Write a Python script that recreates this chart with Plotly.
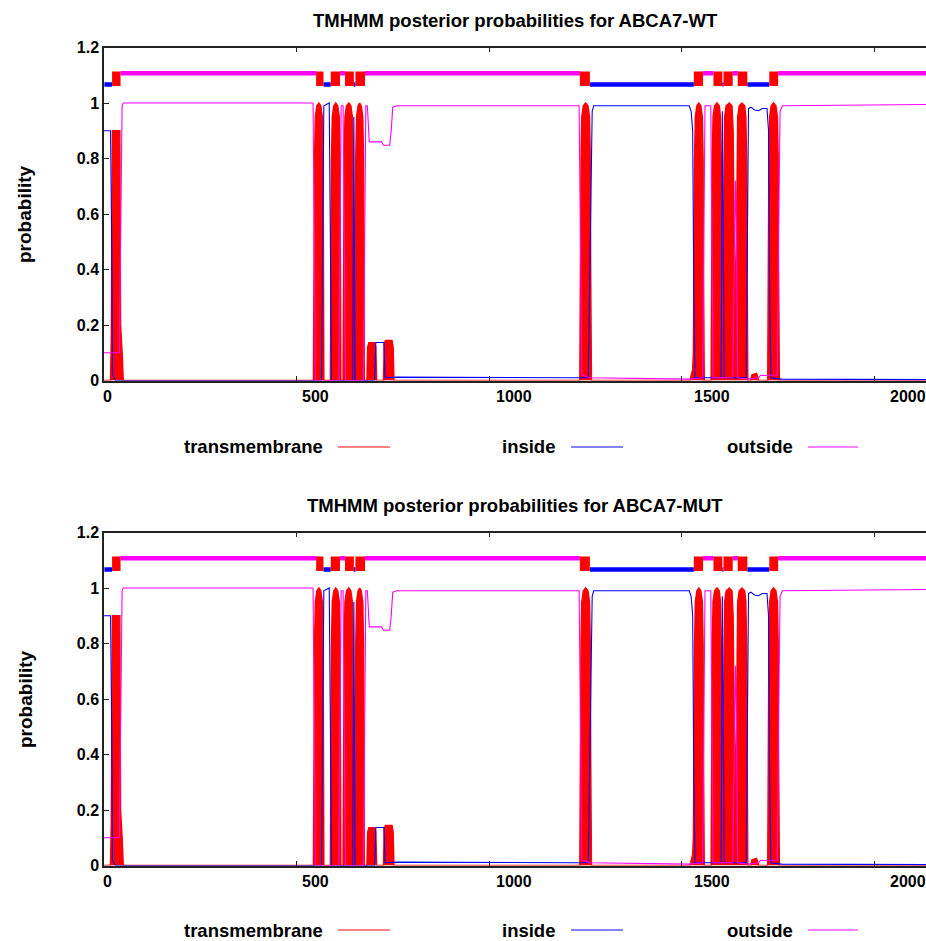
import plotly.graph_objects as go

# ---------------- data ----------------
SEQ_LEN = 2146
X_VISIBLE_MAX = 2135

series_names = ["transmembrane", "inside", "outside"]
series_colors = ["#ff0000", "#0000ff", "#ff00ff"]
legend_colors = ["#ff5a5a", "#5a5aff", "#ff5aff"]

titles = ["TMHMM posterior probabilities for ABCA7-WT",
          "TMHMM posterior probabilities for ABCA7-MUT"]

x_ticks = [0, 500, 1000, 1500, 2000]
y_ticks = [0, 0.2, 0.4, 0.6, 0.8, 1.0, 1.2]
y_tick_labels = ["0", "0.2", "0.4", "0.6", "0.8", "1", "1.2"]

# transmembrane probability (residue, probability)
wt_tm_x = [0, 17, 19, 22, 41, 43, 47, 50,
           544, 545, 547, 549, 553, 558, 563, 567, 569, 570, 571,
           588, 589, 591, 593, 597, 602, 607, 611, 613, 614, 615,
           621, 622, 624, 626, 630, 636, 641, 645, 647, 648, 649,
           651, 652, 654, 656, 660, 664, 668, 672, 674, 675, 676,
           683, 685, 688, 703, 706, 708,
           726, 728, 731, 748, 751, 753,
           1236, 1237, 1239, 1241, 1245, 1251, 1257, 1261, 1263, 1264, 1266,
           1522, 1529, 1531, 1532, 1534, 1536, 1540, 1545, 1550, 1554, 1556, 1557, 1559,
           1577, 1578, 1580, 1582, 1586, 1592, 1598, 1601, 1603, 1605, 1606, 1607,
           1608, 1610, 1612, 1616, 1624, 1631, 1634, 1636, 1638, 1640, 1642, 1644,
           1646, 1650, 1657, 1664, 1667, 1669, 1670, 1672,
           1680, 1683, 1695, 1700,
           1724, 1725, 1727, 1729, 1733, 1739, 1745, 1749, 1751, 1752, 1754, SEQ_LEN]
wt_tm_y = [0, 0, 0.15, 0.9, 0.9, 0.2, 0.1, 0,
           0, 0.4, 0.8, 0.95, 0.99, 1.0, 0.99, 0.95, 0.8, 0.4, 0,
           0, 0.4, 0.8, 0.95, 0.99, 1.0, 0.99, 0.95, 0.8, 0.4, 0,
           0, 0.4, 0.8, 0.95, 0.99, 1.0, 0.99, 0.95, 0.8, 0.4, 0,
           0, 0.4, 0.8, 0.95, 0.99, 1.0, 0.99, 0.95, 0.8, 0.4, 0,
           0, 0.12, 0.136, 0.136, 0.12, 0,
           0, 0.13, 0.144, 0.144, 0.12, 0,
           0, 0.4, 0.8, 0.95, 0.99, 1.0, 0.99, 0.95, 0.8, 0.4, 0,
           0, 0.04, 0.1, 0.4, 0.8, 0.95, 0.99, 1.0, 0.99, 0.95, 0.8, 0.4, 0,
           0, 0.4, 0.8, 0.95, 0.99, 1.0, 0.99, 0.95, 0.8, 0.4, 0.1, 0.05,
           0.4, 0.8, 0.95, 0.99, 1.0, 0.99, 0.9, 0.6, 0.35, 0.28, 0.4, 0.8,
           0.95, 0.99, 1.0, 0.99, 0.95, 0.8, 0.4, 0,
           0, 0.02, 0.025, 0,
           0, 0.4, 0.8, 0.95, 0.99, 1.0, 0.99, 0.95, 0.8, 0.4, 0, 0]

# inside probability
wt_in_x = [0, 17, 20, 22, 30,
           565, 568, 571, 585, 588, 591,
           646, 649, 652,
           703, 706, 727, 730, 760, 1230,
           1258, 1263, 1268, 1272, 1520, 1525, 1529, 1532, 1535,
           1603, 1606, 1609, 1611,
           1668, 1671, 1674, 1680, 1690, 1700, 1710, 1722, 1726, 1729, 1732,
           1760, SEQ_LEN]
wt_in_y = [0.9, 0.9, 0.5, 0.02, 0,
           0, 0.5, 0.99, 1.0, 0.5, 0,
           0, 0.95, 0,
           0, 0.137, 0.137, 0.01, 0.012, 0.01,
           0.01, 0.5, 0.97, 0.99, 0.99, 0.97, 0.9, 0.3, 0.01,
           0.01, 0.97, 0.4, 0.01,
           0.01, 0.5, 0.98, 0.985, 0.975, 0.972, 0.98, 0.98, 0.9, 0.3, 0.01,
           0.005, 0.003]

# outside probability
wt_out_x = [0, 40, 44, 47, 50, 543, 546, 549,
            610, 613, 616, 621, 624, 627,
            674, 677, 680, 684, 687, 689, 721, 726, 742, 746, 750, 760,
            1234, 1237, 1241, 1262, 1520,
            1555, 1558, 1561, 1576, 1579, 1582,
            1633, 1636, 1638, 1640, 1642, 1644, 1646,
            1672, 1700, 1705, 1745, 1749, 1752, 1756, 1762, SEQ_LEN]
wt_out_y = [0.1, 0.1, 0.6, 0.99, 1.0, 1.0, 0.5, 0,
            0, 0.5, 0.99, 0.99, 0.5, 0,
            0, 0.6, 0.99, 0.99, 0.9, 0.86, 0.86, 0.848, 0.848, 0.9, 0.985, 0.99,
            0.99, 0.5, 0.02, 0.01, 0.005,
            0.01, 0.5, 0.99, 0.99, 0.5, 0.01,
            0.01, 0.3, 0.65, 0.72, 0.6, 0.1, 0.01,
            0.005, 0.01, 0.018, 0.018, 0.02, 0.5, 0.97, 0.99, 0.995]

# predicted topology: (state, start, end)
wt_topology = [("inside", 1, 21), ("TM", 21, 43), ("outside", 43, 551),
               ("TM", 551, 570), ("inside", 570, 589), ("TM", 589, 613),
               ("outside", 613, 626), ("TM", 626, 649), ("inside", 649, 653),
               ("TM", 653, 678), ("outside", 678, 1236), ("TM", 1236, 1262),
               ("inside", 1262, 1532), ("TM", 1532, 1556), ("outside", 1556, 1583),
               ("TM", 1583, 1606), ("inside", 1606, 1609), ("TM", 1609, 1633),
               ("outside", 1633, 1646), ("TM", 1646, 1671), ("inside", 1671, 1728),
               ("TM", 1728, 1751), ("outside", 1751, SEQ_LEN)]

# the mutant profile is indistinguishable from the wild type in the picture
mut_tm_x, mut_tm_y = list(wt_tm_x), list(wt_tm_y)
mut_in_x, mut_in_y = list(wt_in_x), list(wt_in_y)
mut_out_x, mut_out_y = list(wt_out_x), list(wt_out_y)
mut_topology = list(wt_topology)

# ---------------- styling ----------------
topo_level = {"inside": 1.067, "outside": 1.107, "TM": 1.087}
topo_width = {"inside": 4.5, "outside": 4.5, "TM": 14.5}
topo_color = {"inside": "#0000ff", "outside": "#ff00ff", "TM": "#ff0000"}
# in the picture the x tick labels sit slightly right of their tick marks
x_label_shift_px = [3, 19, 25, 30, 34]

W, H = 926, 941
FONT = "Liberation Sans, Arial, sans-serif"
panels = [
    dict(title=titles[0], top=47.5, bottom=380.5, title_y=20, legend_y=447,
         data=(wt_tm_x, wt_tm_y, wt_in_x, wt_in_y, wt_out_x, wt_out_y, wt_topology)),
    dict(title=titles[1], top=532.5, bottom=865.5, title_y=505, legend_y=930,
         data=(mut_tm_x, mut_tm_y, mut_in_x, mut_in_y, mut_out_x, mut_out_y, mut_topology)),
]
x_left_px = 104

fig = go.Figure()
annotations = []
shapes = []

for i, p in enumerate(panels):
    xa = "x" if i == 0 else "x2"
    ya = "y" if i == 0 else "y2"
    tmx, tmy, inx, iny, outx, outy, topo = p["data"]

    fig.add_trace(go.Scatter(x=tmx, y=tmy, mode="lines", fill="tozeroy",
                             fillcolor=series_colors[0],
                             line=dict(color=series_colors[0], width=1.5),
                             xaxis=xa, yaxis=ya, showlegend=False))
    fig.add_trace(go.Scatter(x=inx, y=iny, mode="lines",
                             line=dict(color=series_colors[1], width=1.1),
                             xaxis=xa, yaxis=ya, showlegend=False))
    fig.add_trace(go.Scatter(x=outx, y=outy, mode="lines",
                             line=dict(color=series_colors[2], width=1.1),
                             xaxis=xa, yaxis=ya, showlegend=False))
    for order in ("inside", "outside", "TM"):
        for state, s, e in topo:
            if state != order:
                continue
            lvl = topo_level[state]
            fig.add_trace(go.Scatter(x=[s, e], y=[lvl, lvl], mode="lines",
                                     line=dict(color=topo_color[state],
                                               width=topo_width[state]),
                                     xaxis=xa, yaxis=ya, showlegend=False,
                                     hoverinfo="skip"))

    ydom = [1 - p["bottom"] / H, 1 - p["top"] / H]
    axis_common = dict(showline=True, linecolor="#222222", linewidth=1.5,
                       ticks="inside", ticklen=5, tickcolor="#222222",
                       showgrid=False, zeroline=False, automargin=False,
                       tickfont=dict(family=FONT, size=16, color="black"))
    xkey = "xaxis" if i == 0 else "xaxis2"
    ykey = "yaxis" if i == 0 else "yaxis2"
    fig.update_layout(**{
        xkey: dict(domain=[x_left_px / W, 1], range=[0, X_VISIBLE_MAX],
                   tickvals=x_ticks, showticklabels=False,
                   mirror="ticks", anchor=ya, **axis_common),
        ykey: dict(domain=ydom, range=[0, 1.2], tickvals=y_ticks,
                   ticktext=[f"<b>{t}</b>" for t in y_tick_labels],
                   anchor=xa, **axis_common),
    })

    # x tick labels, placed at their tick values on the data axis
    for v, sh in zip(x_ticks, x_label_shift_px):
        annotations.append(dict(text=f"<b>{v}</b>", xref=xa, yref="paper", x=v,
                                y=1 - (p["bottom"] + 16) / H, xshift=sh,
                                xanchor="center", yanchor="middle", showarrow=False,
                                font=dict(family=FONT, size=16, color="black")))

    annotations.append(dict(text=f"<b>{p['title']}</b>", xref="paper", yref="paper",
                            x=(x_left_px + W) / 2 / W, y=1 - p["title_y"] / H,
                            xanchor="center", yanchor="middle", showarrow=False,
                            font=dict(family=FONT, size=18.5, color="black")))
    annotations.append(dict(text="<b>probability</b>", xref="paper", yref="paper",
                            x=25 / W, y=1 - (p["top"] + p["bottom"]) / 2 / H,
                            xanchor="center", yanchor="middle", textangle=-90,
                            showarrow=False,
                            font=dict(family=FONT, size=19, color="black")))
    # legend (text followed by a line sample)
    text_right = [325, 557, 795]
    sample = [(338, 390), (571, 623), (808, 858)]
    for k in range(3):
        annotations.append(dict(text=f"<b>{series_names[k]}</b>", xref="paper",
                                yref="paper", x=text_right[k] / W,
                                y=1 - p["legend_y"] / H, xanchor="right",
                                yanchor="middle", showarrow=False,
                                font=dict(family=FONT, size=18.5, color="black")))
        shapes.append(dict(type="line", xref="paper", yref="paper",
                           x0=sample[k][0] / W, x1=sample[k][1] / W,
                           y0=1 - p["legend_y"] / H, y1=1 - p["legend_y"] / H,
                           line=dict(color=legend_colors[k], width=1.5)))

fig.update_layout(width=W, height=H, margin=dict(l=0, r=0, t=0, b=0, autoexpand=False),
                  plot_bgcolor="white", paper_bgcolor="white",
                  annotations=annotations, shapes=shapes, showlegend=False)

fig.write_html("out.html", config={"displayModeBar": False},
               post_script="document.body.style.margin='0px';")
